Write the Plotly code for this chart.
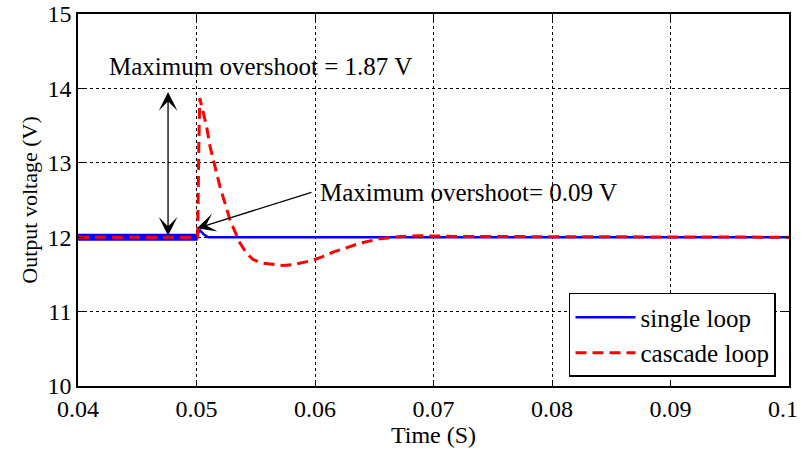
import plotly.graph_objects as go

# ---- data ----
single_x = [0.04, 0.0500, 0.05015, 0.0503, 0.0506, 0.0510, 0.1]
single_y = [12.00, 12.00, 12.06, 12.09, 12.04, 12.00, 12.00]

# ripple band of single loop before the step (drawn thick)
single_pre_x = [0.04, 0.0501]
single_pre_y = [12.00, 12.00]

cascade_x = [0.04, 0.0501, 0.0502, 0.05028, 0.05045, 0.05085, 0.05114, 0.05198,
             0.05283, 0.05367, 0.0542, 0.05477, 0.0556, 0.05646, 0.0573, 0.05814,
             0.059, 0.05983, 0.06065, 0.06152, 0.0627, 0.0638, 0.06549, 0.0672,
             0.06886, 0.072, 0.1]
cascade_y = [12.00, 12.00, 13.30, 13.87, 13.75, 13.49, 13.22, 12.68,
             12.23, 11.92, 11.79, 11.70, 11.65, 11.63, 11.62, 11.63,
             11.66, 11.69, 11.74, 11.80, 11.86, 11.92, 11.98, 12.01,
             12.02, 12.01, 12.00]

x_ticks = [0.04, 0.05, 0.06, 0.07, 0.08, 0.09, 0.1]
x_ticktext = ["0.04", "0.05", "0.06", "0.07", "0.08", "0.09", "0.1\u00a0\u00a0"]
y_ticks = [10, 11, 12, 13, 14, 15]
y_ticktext = ["10", "11", "12", "13", "14", "15"]

FONT = "Liberation Serif, Times New Roman, serif"
FS = 25

fig = go.Figure()
fig.add_trace(go.Scatter(x=single_pre_x, y=single_pre_y, mode="lines",
                         line=dict(color="#0000ff", width=7),
                         showlegend=False, legendgroup="s", hoverinfo="skip"))
fig.add_trace(go.Scatter(x=single_x, y=single_y, mode="lines", name="single loop",
                         legendgroup="s",
                         line=dict(color="#0000ff", width=2.5)))
fig.add_trace(go.Scatter(x=cascade_x, y=cascade_y, mode="lines", name="cascade loop",
                         line=dict(color="#ff0000", width=3, dash="11px,6px")))

axis_common = dict(
    showline=True, linecolor="black", linewidth=1.5, mirror="ticks",
    ticks="inside", ticklen=6, tickcolor="black", tickwidth=1,
    showgrid=True, gridcolor="black", gridwidth=1, griddash="dot",
    zeroline=False, automargin=False, ticklabeloverflow="allow",
    tickfont=dict(family=FONT, size=24, color="black"),
)

fig.update_xaxes(range=[0.04, 0.1000001], tickvals=x_ticks, ticktext=x_ticktext,
                 title=dict(text="Time (S)", font=dict(family=FONT, size=24, color="black"),
                            standoff=2),
                 **axis_common)
fig.update_yaxes(range=[10, 15], tickvals=y_ticks, ticktext=y_ticktext,
                 title=dict(text="Output voltage (V)", font=dict(family=FONT, size=22, color="black"),
                            standoff=4),
                 **axis_common)

# double arrow for cascade overshoot
fig.add_annotation(x=0.0476, y=13.95, ax=0.0476, ay=12.0, axref="x", ayref="y",
                   xref="x", yref="y", text="", showarrow=True,
                   arrowhead=3, startarrowhead=3, arrowside="end+start",
                   arrowsize=2.4, startarrowsize=2.4, arrowwidth=1.3, arrowcolor="black")
fig.add_annotation(x=0.04245, y=14.29, xref="x", yref="y", xanchor="left", yanchor="middle",
                   text="Maximum overshoot = 1.87 V", showarrow=False,
                   font=dict(family=FONT, size=FS, color="black"))
# arrow for single loop overshoot
fig.add_annotation(x=0.05004, y=12.12, ax=0.05983, ay=12.61, axref="x", ayref="y",
                   xref="x", yref="y", text="", showarrow=True,
                   arrowhead=3, arrowsize=2.4, arrowwidth=1.3, arrowcolor="black")
fig.add_annotation(x=0.06025, y=12.60, xref="x", yref="y", xanchor="left", yanchor="middle",
                   text="Maximum overshoot= 0.09 V", showarrow=False,
                   font=dict(family=FONT, size=FS, color="black"))

fig.update_layout(
    width=802, height=452,
    margin=dict(l=78, r=13, t=14, b=66, autoexpand=False),
    paper_bgcolor="white", plot_bgcolor="white",
    font=dict(family=FONT, size=FS, color="black"),
    legend=dict(x=0.9817, y=0.0242, xanchor="right", yanchor="bottom",
                bgcolor="white", bordercolor="black", borderwidth=1.5,
                font=dict(family=FONT, size=25, color="black"),
                itemwidth=60, tracegroupgap=0),
    showlegend=True,
)

fig.write_html("out.html", config={"displayModeBar": False},
               post_script="document.body.style.margin='0';document.body.style.padding='0';")
